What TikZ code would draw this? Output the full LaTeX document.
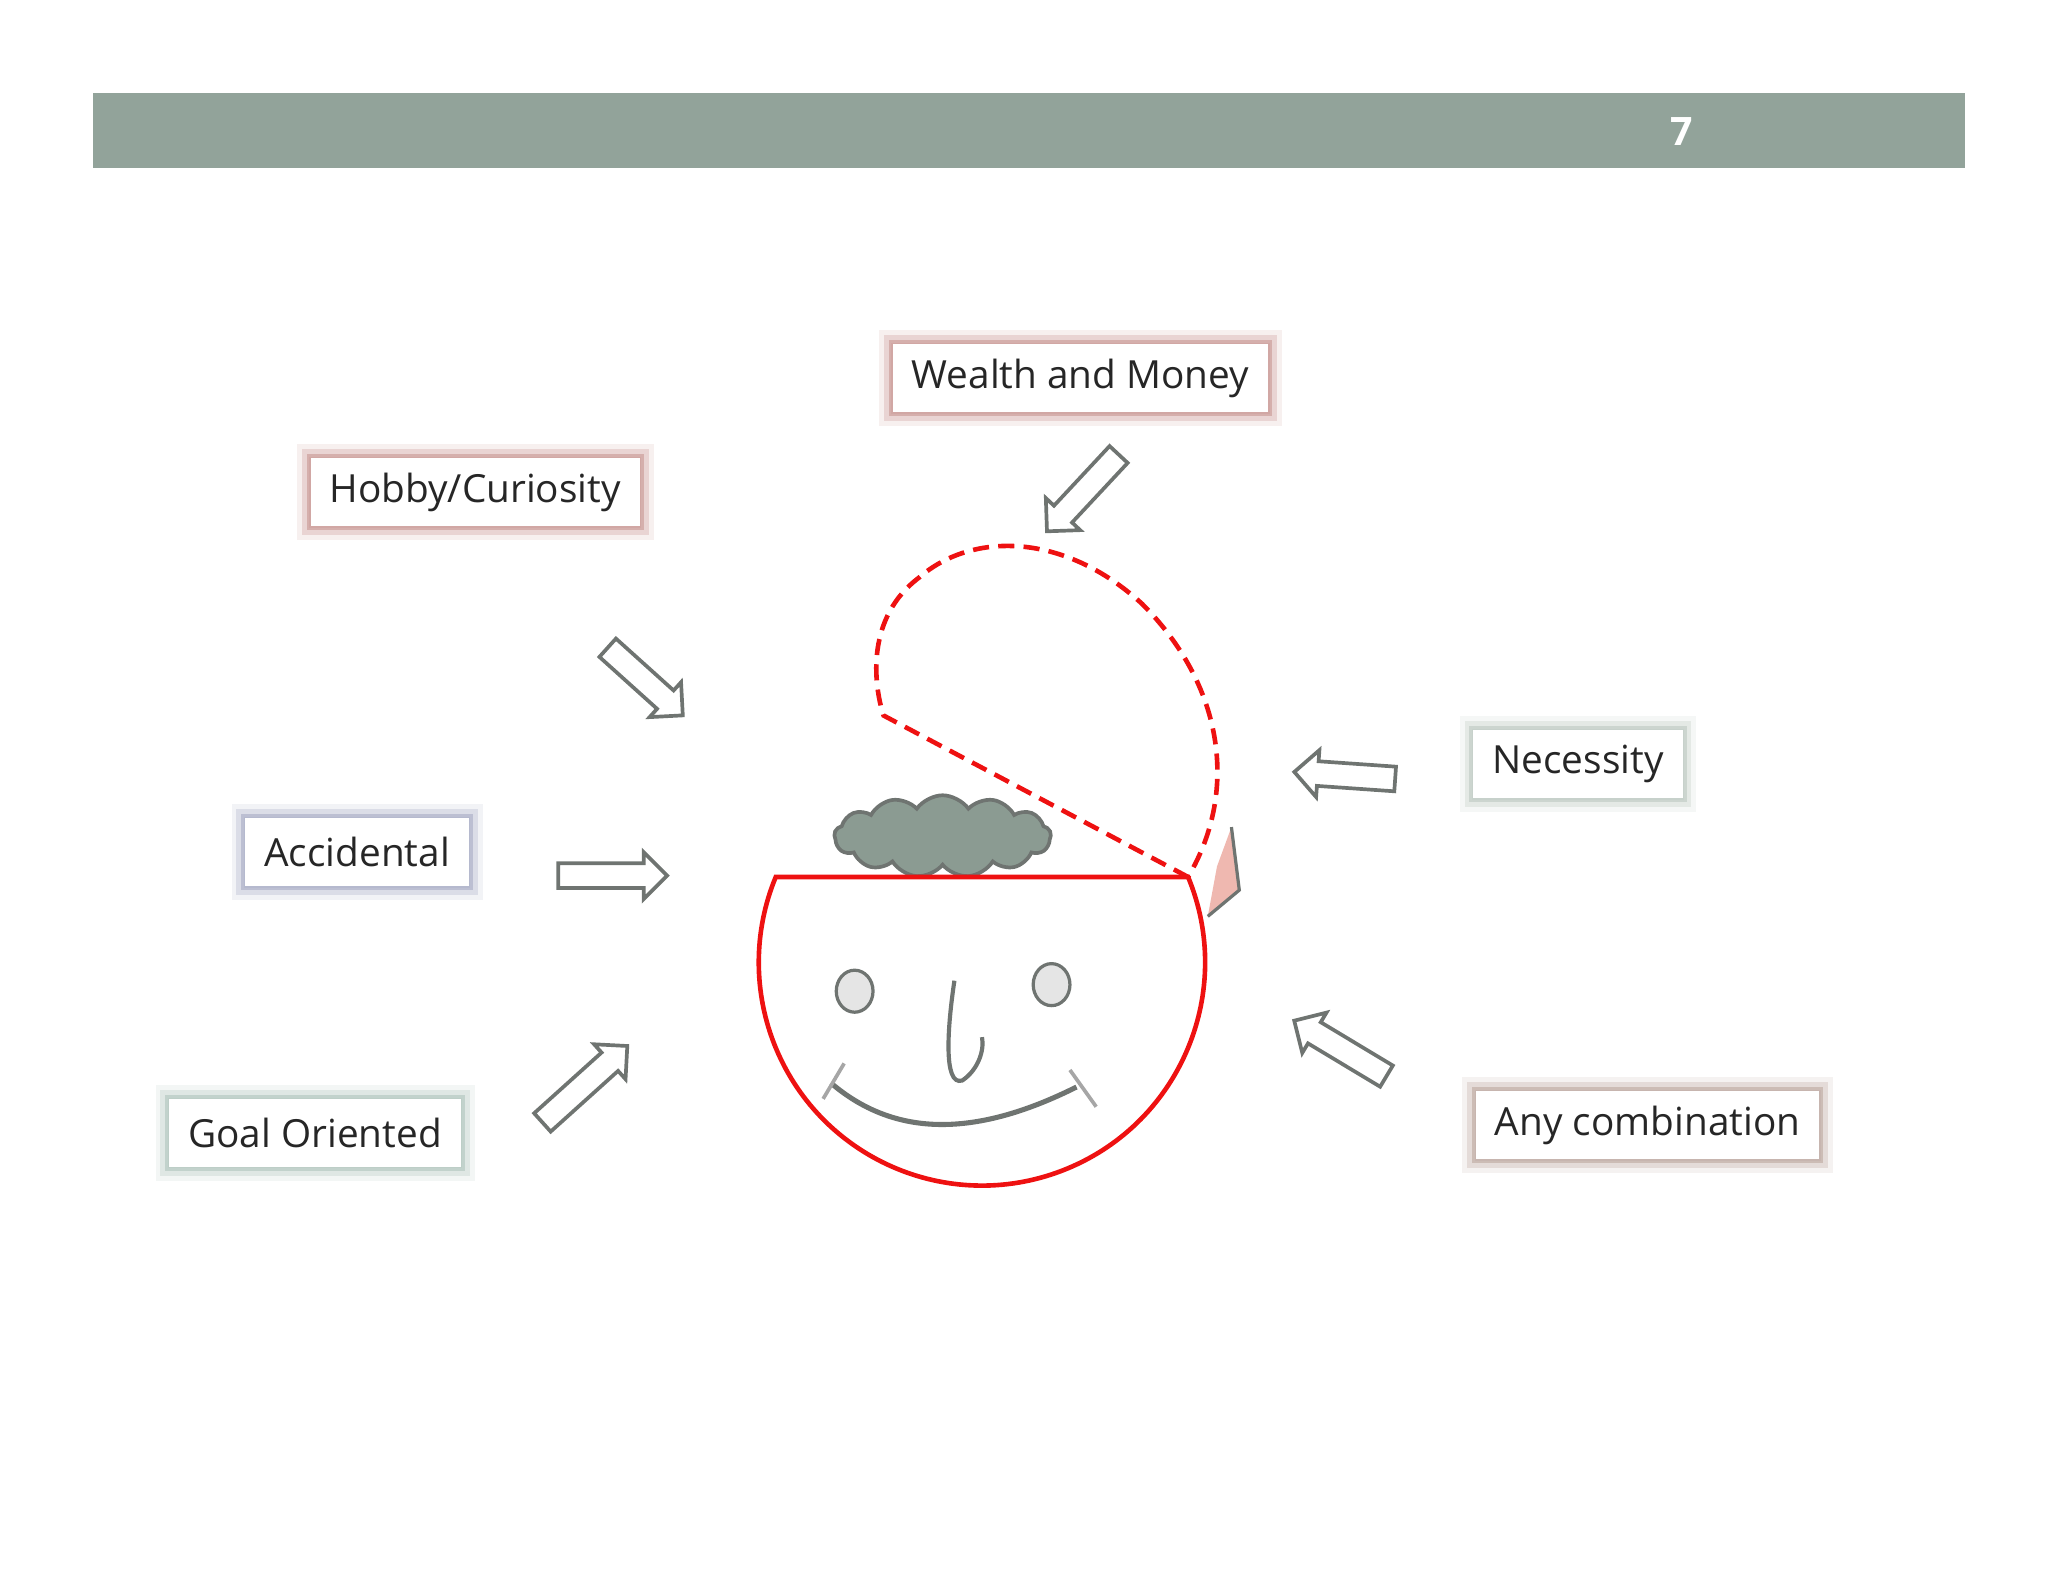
\documentclass[tikz,border=0pt]{standalone}
\usepackage{fontspec}
\setmainfont{Open Sans}
\usetikzlibrary{shapes.arrows,shapes.symbols}
\definecolor{bar}{HTML}{92A39A}
\definecolor{agrey}{HTML}{6F7471}
\definecolor{hred}{HTML}{EE1111}
\definecolor{gred}{RGB}{190,130,125}
\definecolor{gblue}{RGB}{150,155,185}
\definecolor{ggreen}{RGB}{160,185,175}
\definecolor{glgreen}{RGB}{175,190,180}
\definecolor{gbrown}{RGB}{175,150,140}
\definecolor{pink}{RGB}{239,184,176}
\begin{document}
\begin{tikzpicture}[x=0.02cm,y=-0.02cm,
  lbl/.style={draw=#1!70!white,line width=0.6pt,fill=white,minimum height=1.06cm,inner xsep=0.3cm,
    font=\fontsize{16.8}{20}\selectfont,text=black!85,
    preaction={draw=#1,line width=0.4cm,opacity=0.12},
    preaction={draw=#1,line width=0.25cm,opacity=0.25},
    preaction={draw=#1,line width=0.1cm,opacity=0.45}},
  blk/.style={single arrow,draw=agrey,fill=white,line width=1.6pt,minimum height=#1*0.02cm,
    single arrow head extend=0.17cm,inner xsep=0pt,inner ysep=0.16cm,text width=0pt,
    text height=0pt,text depth=0pt}]
\useasboundingbox (0,0) rectangle (1560,1205);
\fill[bar] (71,71) rectangle (1497,128);
\node[text=white,font=\bfseries\fontsize{17}{20}\selectfont] (pg) at (1281,100) {7};
% labels
\node[lbl=gred] (w) at (823,288) {Wealth and Money};
\node[lbl=gred] (h) at (362,375) {Hobby/Curiosity};
\node[lbl=gblue] (a) at (272,649) {Accidental};
\node[lbl=ggreen] (g) at (240,863) {Goal Oriented};
\node[lbl=glgreen] (n) at (1202,582) {Necessity};
\node[lbl=gbrown] (c) at (1255,857) {Any combination};
% arrows
\node[blk=80,rotate=227] (aw) at (828,372) {};
\node[blk=77,rotate=-42] (ah) at (488,516) {};
\node[blk=83,rotate=0] (aa) at (462,667) {};
\node[blk=87,rotate=42] (ag) at (442,829) {};
\node[blk=77,rotate=176] (an) at (1029,591) {};
\node[blk=82,rotate=149] (ac) at (1025,801) {};
% lid
\draw[hred,line width=2pt,dash pattern=on 7pt off 4pt] (905,668) -- (673,545)
  .. controls (665,520) and (660,470) .. (700,440)
  .. controls (740,405) and (810,405) .. (870,460)
  .. controls (930,520) and (945,600) .. (905,668);
% pink flap
\fill[pink] (938,630) -- (944,678) -- (920,698) -- (927,660) -- cycle;
\draw[agrey,line width=1.4pt] (938,630) -- (944,678) -- (920,698);
% hair
\node[cloud,cloud puffs=13,cloud puff arc=110,aspect=3.2,fill=bar!95!black,draw=agrey,line width=1.6pt,
  minimum width=3.3cm,minimum height=1.25cm,inner sep=0pt] (hair) at (718,637) {};
% head
\draw[hred,line width=2pt] (905,668) arc[start angle=-22.5,end angle=202.5,radius=170] -- cycle;
% face
\draw[agrey,fill=black!10,line width=1.4pt] (651,755) ellipse[x radius=14,y radius=16];
\draw[agrey,fill=black!10,line width=1.4pt] (801,750) ellipse[x radius=14,y radius=16];
\draw[agrey,line width=1.8pt] (727,747) .. controls (722,780) and (718,828) .. (733,823)
  .. controls (745,815) and (750,800) .. (748,790);
\draw[agrey,line width=2.2pt] (633,825) .. controls (680,865) and (740,868) .. (820,828);
\draw[black!35,line width=1.6pt] (643,810) -- (627,837) (815,815) -- (835,843);
\end{tikzpicture}
\end{document}
